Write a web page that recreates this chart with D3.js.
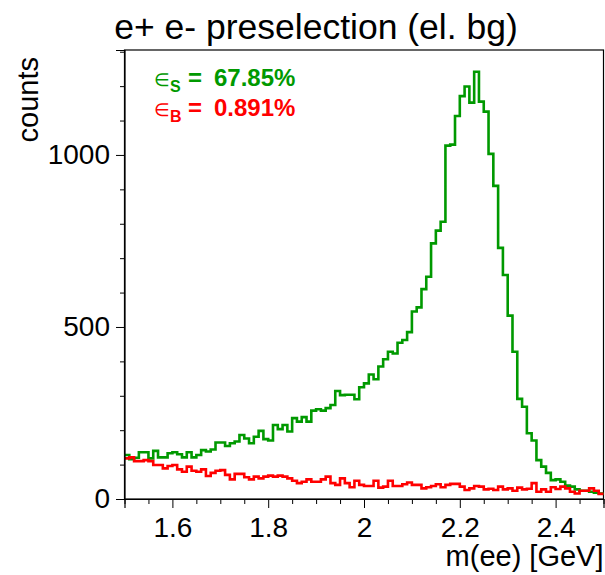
<!DOCTYPE html>
<html>
<head>
<meta charset="utf-8">
<script src="https://cdn.jsdelivr.net/npm/d3@7"></script>
<style>
body { margin: 0; background: #fff; }
svg { display: block; font-family: "Liberation Sans", Arial, sans-serif; }
</style>
</head>
<body>
<svg id="chart" width="605" height="575"></svg>
<script>
// ---- data ----
const binLow = 1.5, binHigh = 2.5, nBins = 100;
const signalCounts = [
  128,116,120,136,136,118,140,121,121,133,
  136,130,121,136,121,128,142,138,144,164,
  164,154,162,167,186,176,162,181,198,174,
  170,215,203,215,196,235,225,238,225,257,
  261,257,264,273,314,302,303,303,290,325,
  336,362,348,385,406,428,423,454,462,485,
  545,557,610,646,743,780,806,1027,1030,1113,
  1171,1199,1152,1242,1155,1126,1003,910,730,651,
  533,428,291,268,191,170,113,94,76,55,
  57,50,39,36,28,24,24,21,18,16
];
const backgroundCounts = [
  118,121,110,110,113,110,99,99,89,96,
  99,86,79,94,82,79,86,67,76,82,
  84,70,57,73,73,63,57,65,60,65,
  68,65,68,65,60,53,46,50,57,50,
  50,57,65,46,41,60,46,34,53,41,
  38,38,53,33,36,53,38,38,43,48,
  41,41,31,34,38,43,34,41,44,44,
  36,26,31,38,36,28,30,26,36,28,
  31,24,33,28,30,46,21,28,21,34,
  29,36,31,21,16,24,24,31,24,15
];
const xMajorTicks = [1.6, 1.8, 2.0, 2.2, 2.4];
const xTickLabels = ["1.6", "1.8", "2", "2.2", "2.4"];
const yMajorTicks = [0, 500, 1000];
const yTickLabels = ["0", "500", "1000"];
const titleText = "e+ e- preselection (el. bg)";
const xTitle = "m(ee) [GeV]";
const yTitle = "counts";
const effSignal = "67.85%";
const effBackground = "0.891%";

// ---- layout ----
const L = 124.5, R = 603.5, T = 50, B = 499;
const yMax = 1305;
const green = "#009900", red = "#ff0000";

const svg = d3.select("#chart");
const x = d3.scaleLinear().domain([binLow, binHigh]).range([L, R]);
const y = d3.scaleLinear().domain([0, yMax]).range([B, T]);

const binW = (binHigh - binLow) / nBins;
function histPoints(counts) {
  const pts = counts.map((c, i) => [binLow + i * binW, c]);
  pts.push([binHigh, counts[counts.length - 1]]);
  return pts;
}
const line = d3.line().x(d => x(d[0])).y(d => y(d[1])).curve(d3.curveStepAfter);

// frame
svg.append("rect").attr("x", L).attr("y", T).attr("width", R - L).attr("height", B - T)
  .attr("fill", "none").attr("stroke", "#000").attr("stroke-width", 1.2);

// histograms
svg.append("path").datum(histPoints(signalCounts)).attr("d", line)
  .attr("fill", "none").attr("stroke", green).attr("stroke-width", 2.6);
svg.append("path").datum(histPoints(backgroundCounts)).attr("d", line)
  .attr("fill", "none").attr("stroke", red).attr("stroke-width", 2.6);

// x axis
const xMinor = d3.range(0, 21).map(i => binLow + i * 0.05).filter(v => !xMajorTicks.some(m => Math.abs(m - v) < 1e-6));
svg.append("g").attr("transform", `translate(0,${B})`)
  .call(d3.axisBottom(x).tickValues(xMinor).tickSize(5).tickFormat(""))
  .call(g => g.select(".domain").remove());
const gx = svg.append("g").attr("transform", `translate(0,${B})`)
  .call(d3.axisBottom(x).tickValues(xMajorTicks).tickSize(9).tickPadding(9)
    .tickFormat((d, i) => xTickLabels[i]));
gx.select(".domain").attr("stroke-width", 1.2);
gx.selectAll("text").attr("font-size", 28).attr("fill", "#000")
  .attr("font-family", "Liberation Sans, Arial, sans-serif");

// y axis
const yMinor = d3.range(0, 14).map(i => i * 100).filter(v => !yMajorTicks.includes(v));
svg.append("g").attr("transform", `translate(${L},0)`)
  .call(d3.axisLeft(y).tickValues(yMinor).tickSize(4.5).tickFormat(""))
  .call(g => g.select(".domain").remove());
const gy = svg.append("g").attr("transform", `translate(${L},0)`)
  .call(d3.axisLeft(y).tickValues(yMajorTicks).tickSize(8.5).tickPadding(6)
    .tickFormat((d, i) => yTickLabels[i]));
gy.select(".domain").attr("stroke-width", 1.2);
gy.selectAll("text").attr("font-size", 28).attr("fill", "#000")
  .attr("font-family", "Liberation Sans, Arial, sans-serif");

// titles
svg.append("text").attr("x", 316).attr("y", 39).attr("text-anchor", "middle")
  .attr("font-size", 35.5).text(titleText);
svg.append("text").attr("x", R).attr("y", 566).attr("text-anchor", "end")
  .attr("font-size", 29).text(xTitle);
svg.append("text").attr("transform", "translate(38,57) rotate(-90)").attr("text-anchor", "end")
  .attr("font-size", 29).text(yTitle);

// efficiencies
function effText(yPos, sub, val, color) {
  const t = svg.append("text").attr("x", 154).attr("y", yPos).attr("fill", color).attr("font-size", 24);
  t.append("tspan").attr("font-size", 18).text("\u2208");
  t.append("tspan").attr("font-weight", "bold").attr("font-size", 16).attr("x", 170).attr("dy", 6).text(sub);
  t.append("tspan").attr("font-weight", "bold").attr("dy", -6).attr("x", 188).text("=");
  t.append("tspan").attr("font-weight", "bold").attr("x", 214).text(val);
}
effText(86, "S", effSignal, green);
effText(116, "B", effBackground, red);
</script>
</body>
</html>
